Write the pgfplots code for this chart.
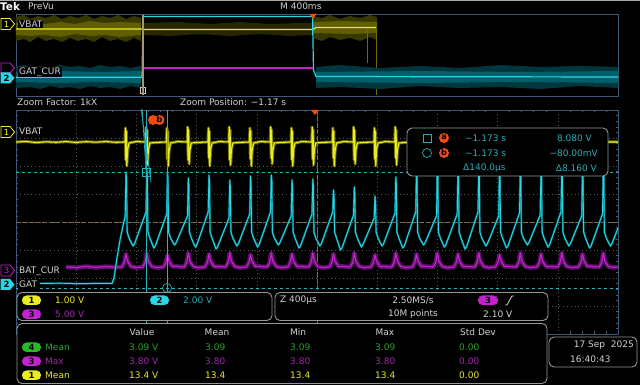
\documentclass[border=0pt]{standalone}
\usepackage{pgfplots}
\usepackage{pgfplotstable}
\pgfplotsset{compat=1.18}
\usepackage{fontspec}
\setmainfont{DejaVu Sans}
\definecolor{ych}{RGB}{235,235,35}
\definecolor{yband}{RGB}{110,110,0}
\definecolor{cch}{RGB}{40,215,230}
\definecolor{cband}{RGB}{0,100,110}
\definecolor{mch}{RGB}{195,35,205}
\definecolor{mband}{RGB}{95,15,105}
\definecolor{mtxt}{RGB}{160,40,170}
\definecolor{gch}{RGB}{40,165,40}
\definecolor{gpill}{RGB}{40,185,40}
\definecolor{tealc}{RGB}{40,175,185}
\definecolor{gridc}{RGB}{90,90,90}
\definecolor{centc}{RGB}{125,110,80}
\definecolor{bordc}{RGB}{60,88,118}
\definecolor{panelc}{RGB}{150,150,150}
\definecolor{txtc}{RGB}{210,210,210}
\definecolor{orng}{RGB}{240,75,20}
\definecolor{tanc}{RGB}{165,150,120}

\pgfplotstableread[row sep=\\]{
x y\\
16 142\\ 26 141.5\\ 36 142.5\\ 46 141.8\\ 56 142.3\\ 66 141.6\\ 76 142.4\\ 86 141.7\\ 96 142.2\\ 106 141.6\\ 116 142.3\\ 124 142\\
125.0 142\\ 125.4 128\\ 125.8 160\\ 126.3 131\\ 126.8 166\\ 127.6 150\\ 129.0 143\\ 136 141.6\\
145.8 142\\ 146.2 127\\ 146.6 158\\ 147.1 130\\ 147.6 165\\ 148.4 150\\ 149.8 143\\ 156.8 142.4\\
166.5 142\\ 166.9 128\\ 167.3 159\\ 167.8 131\\ 168.3 166\\ 169.1 151\\ 170.5 143\\ 177.5 141.6\\
187.3 142\\ 187.7 127\\ 188.1 160\\ 188.6 130\\ 189.1 164\\ 189.9 150\\ 191.3 143\\ 198.3 142.4\\
208.0 142\\ 208.4 128\\ 208.8 158\\ 209.3 131\\ 209.8 166\\ 210.6 149\\ 212.0 143\\ 219 141.6\\
228.8 142\\ 229.2 127\\ 229.6 160\\ 230.1 130\\ 230.6 165\\ 231.4 150\\ 232.8 143\\ 239.8 142.4\\
249.5 142\\ 249.9 128\\ 250.3 159\\ 250.8 131\\ 251.3 166\\ 252.1 151\\ 253.5 143\\ 260.5 141.6\\
270.3 142\\ 270.7 127\\ 271.1 158\\ 271.6 130\\ 272.1 164\\ 272.9 150\\ 274.3 143\\ 281.3 142.4\\
291.0 142\\ 291.4 128\\ 291.8 160\\ 292.3 131\\ 292.8 166\\ 293.6 149\\ 295.0 143\\ 302 141.6\\
311.8 142\\ 312.2 127\\ 312.6 159\\ 313.1 130\\ 313.6 165\\ 314.4 150\\ 315.8 143\\ 322.8 142.4\\
332.5 142\\ 332.9 128\\ 333.3 158\\ 333.8 131\\ 334.3 166\\ 335.1 151\\ 336.5 143\\ 343.5 141.6\\
353.3 142\\ 353.7 127\\ 354.1 160\\ 354.6 130\\ 355.1 164\\ 355.9 150\\ 357.3 143\\ 364.3 142.4\\
374.0 142\\ 374.4 128\\ 374.8 159\\ 375.3 131\\ 375.8 166\\ 376.6 149\\ 378.0 143\\ 385 141.6\\
394.8 142\\ 395.2 127\\ 395.6 158\\ 396.1 130\\ 396.6 165\\ 397.4 150\\ 398.8 143\\ 405.8 142.4\\
420 141.7\\ 500 142.3\\ 560 141.8\\ 618 142\\
}\yelmain

\pgfplotstableread[row sep=\\]{
x y\\
40 283.5\\ 60 283.2\\ 80 283.7\\ 100 283.3\\ 112 283.5\\ 114 278\\ 117 258\\ 120 240\\ 123 226\\
125.2 216\\ 126 172\\ 126.5 178\\ 127.1 232\\ 129 238\\ 133 246\\ 134.5 244\\
146 212\\ 146.8 170\\ 147.3 176\\ 147.9 232\\ 149.8 238\\ 153.8 248\\ 155.3 246\\
166.7 214\\ 167.5 173\\ 168 179\\ 168.6 232\\ 170.5 238\\ 174.5 245\\ 176 243\\
187.5 216\\ 188.3 178\\ 188.8 184\\ 189.4 232\\ 191.3 238\\ 195.3 247\\ 196.8 245\\
208.2 212\\ 209 175\\ 209.5 181\\ 210.1 232\\ 212 238\\ 216 249\\ 217.5 247\\
229 218\\ 229.8 180\\ 230.3 186\\ 230.9 232\\ 232.8 238\\ 236.8 246\\ 238.3 244\\
249.7 214\\ 250.5 176\\ 251 182\\ 251.6 232\\ 253.5 238\\ 257.5 247\\ 259 245\\
270.5 212\\ 271.3 175\\ 271.8 181\\ 272.4 232\\ 274.3 238\\ 278.3 245\\ 279.8 243\\
291.2 216\\ 292 180\\ 292.5 186\\ 293.1 232\\ 295 238\\ 299 248\\ 300.5 246\\
312 214\\ 312.8 179\\ 313.3 185\\ 313.9 232\\ 315.8 238\\ 319.8 246\\ 321.3 244\\
332.7 212\\ 333.5 190\\ 334 196\\ 334.6 232\\ 336.5 238\\ 340.5 250\\ 342 248\\
353.5 215\\ 354.3 187\\ 354.8 193\\ 355.4 232\\ 357.3 238\\ 361.3 247\\ 362.8 245\\
374.2 218\\ 375 196\\ 375.5 202\\ 376.1 232\\ 378 238\\ 382 246\\ 383.5 244\\
395 213\\ 395.8 177\\ 396.3 183\\ 396.9 232\\ 398.8 238\\ 402.8 248\\ 404.3 246\\
415.7 212\\ 416.5 170\\ 417 176\\ 417.6 232\\ 419.5 238\\ 423.5 245\\ 425 243\\
436.5 216\\ 437.3 170\\ 437.8 176\\ 438.4 232\\ 440.3 238\\ 444.3 247\\ 445.8 245\\
457.2 214\\ 458 170\\ 458.5 176\\ 459.1 232\\ 461 238\\ 465 249\\ 466.5 247\\
478 212\\ 478.8 170\\ 479.3 176\\ 479.9 232\\ 481.8 238\\ 485.8 246\\ 487.3 244\\
498.7 216\\ 499.5 170\\ 500 176\\ 500.6 232\\ 502.5 238\\ 506.5 248\\ 508 246\\
519.5 213\\ 520.3 170\\ 520.8 176\\ 521.4 232\\ 523.3 238\\ 527.3 245\\ 528.8 243\\
540.2 215\\ 541 170\\ 541.5 176\\ 542.1 232\\ 544 238\\ 548 247\\ 549.5 245\\
561 212\\ 561.8 170\\ 562.3 176\\ 562.9 232\\ 564.8 238\\ 568.8 246\\ 570.3 244\\
581.7 216\\ 582.5 170\\ 583 176\\ 583.6 232\\ 585.5 238\\ 589.5 248\\ 591 246\\
602.5 214\\ 603.3 170\\ 603.8 176\\ 604.4 232\\ 606.3 238\\ 610.3 246\\ 611.8 244\\
618 228\\
}\cyamain

\pgfplotstableread[row sep=\\]{
x y\\
66 267\\ 76 267.6\\ 86 266.5\\ 96 267.4\\ 106 266.6\\ 116 267.3\\
122 267\\ 124.5 262\\ 126 254\\ 127.5 261\\ 131 266.5\\ 136 267.6\\
142.8 267\\ 145.3 262\\ 146.8 253\\ 148.3 261\\ 151.8 266.5\\ 156.8 267.6\\
163.5 267\\ 166 262\\ 167.5 255\\ 169 261\\ 172.5 266.5\\ 177.5 266.5\\
184.3 267\\ 186.8 262\\ 188.3 253\\ 189.8 261\\ 193.3 266.5\\ 198.3 267.6\\
205 267\\ 207.5 262\\ 209 254\\ 210.5 261\\ 214 266.5\\ 219 266.6\\
225.8 267\\ 228.3 262\\ 229.8 253\\ 231.3 261\\ 234.8 266.5\\ 239.8 267.6\\
246.5 267\\ 249 262\\ 250.5 255\\ 252 261\\ 255.5 266.5\\ 260.5 266.5\\
267.3 267\\ 269.8 262\\ 271.3 253\\ 272.8 261\\ 276.3 266.5\\ 281.3 267.6\\
288 267\\ 290.5 262\\ 292 254\\ 293.5 261\\ 297 266.5\\ 302 266.6\\
308.8 267\\ 311.3 262\\ 312.8 253\\ 314.3 261\\ 317.8 266.5\\ 322.8 267.6\\
329.5 267\\ 332 262\\ 333.5 254\\ 335 261\\ 338.5 266.5\\ 343.5 266.5\\
350.3 267\\ 352.8 262\\ 354.3 253\\ 355.8 261\\ 359.3 266.5\\ 364.3 267.6\\
371 267\\ 373.5 262\\ 375 255\\ 376.5 261\\ 380 266.5\\ 385 266.6\\
391.8 267\\ 394.3 262\\ 395.8 253\\ 397.3 261\\ 400.8 266.5\\ 405.8 267.6\\
412.5 267\\ 415 262\\ 416.5 254\\ 418 261\\ 421.5 266.5\\ 426.5 266.5\\
433.3 267\\ 435.8 262\\ 437.3 253\\ 438.8 261\\ 442.3 266.5\\ 447.3 267.6\\
454 267\\ 456.5 262\\ 458 254\\ 459.5 261\\ 463 266.5\\ 468 266.6\\
474.8 267\\ 477.3 262\\ 478.8 253\\ 480.3 261\\ 483.8 266.5\\ 488.8 267.6\\
495.5 267\\ 498 262\\ 499.5 255\\ 501 261\\ 504.5 266.5\\ 509.5 266.5\\
516.3 267\\ 518.8 262\\ 520.3 253\\ 521.8 261\\ 525.3 266.5\\ 530.3 267.6\\
537 267\\ 539.5 262\\ 541 254\\ 542.5 261\\ 546 266.5\\ 551 266.6\\
557.8 267\\ 560.3 262\\ 561.8 253\\ 563.3 261\\ 566.8 266.5\\ 571.8 267.6\\
578.5 267\\ 581 262\\ 582.5 254\\ 584 261\\ 587.5 266.5\\ 592.5 266.5\\
599.3 267\\ 601.8 262\\ 603.3 253\\ 604.8 261\\ 608.3 266.5\\ 613.3 267.4\\
618 267\\
}\magmain

\begin{document}
\begin{tikzpicture}[x=1pt,y=1pt,font=\fontsize{9}{10}\selectfont]
\useasboundingbox (0,0) rectangle (640,385);
\fill[black] (0,0) rectangle (640,385);
\fill[gray!70] (0,384) rectangle (640,385);

% ---------------- overview ----------------
\begin{axis}[at={(16pt,289pt)}, anchor=south west, width=602pt, height=82pt, scale only axis,
  xmin=16, xmax=618, ymin=14, ymax=96, y dir=reverse,
  axis line style={bordc, line width=0.8pt}, xtick=\empty, ytick=\empty]
\addplot[fill={rgb,255:red,55;green,55;blue,0}, draw=none] coordinates {(16,17)(24,15)(30,19)(38,16)(46,18)(54,15)(62,19)(70,16)(78,18)(86,15)(94,19)(102,16)(110,18)(118,15)(126,19)(134,16)(141,18)(141,41)(134,38)(126,42)(118,39)(110,41)(102,37)(94,42)(86,39)(78,41)(70,38)(62,42)(54,39)(46,41)(38,37)(30,42)(24,39)(16,41)};
\addplot[fill={rgb,255:red,95;green,95;blue,0}, draw=none] coordinates {(16,23)(30,21)(45,24)(60,22)(75,24)(90,21)(105,23)(120,22)(141,23)(141,35)(120,37)(105,35)(90,36)(75,34)(60,37)(45,35)(30,36)(16,35)};
\addplot[fill={rgb,255:red,38;green,38;blue,0}, draw=none] coordinates {(143,23)(180,22)(210,24)(240,22)(270,24)(300,23)(313,23)(313,35)(290,36)(260,34)(230,36)(200,34)(170,36)(143,35)};
\addplot[fill={rgb,255:red,55;green,55;blue,0}, draw=none] coordinates {(313,16)(322,18)(330,15)(340,19)(350,16)(360,18)(370,15)(377,17)(377,40)(370,37)(360,41)(350,38)(340,40)(330,37)(322,41)(313,38)};
\addplot[fill={rgb,255:red,95;green,95;blue,0}, draw=none] coordinates {(313,22)(340,21)(377,22)(377,33)(350,34)(313,33)};
\addplot[yband, line width=1pt] coordinates {(367,28)(367,63)};
\addplot[yband, line width=0.6pt] coordinates {(376.5,28)(376.5,95)};
\addplot[ych, line width=1.2pt] coordinates {(16,29)(141,29)(143,29.5)(313,29.5)(316,27.5)(376,27.5)};
% cyan
\addplot[fill={rgb,255:red,0;green,55;blue,62}, draw=none] coordinates {(16,67)(24,65)(32,68)(40,66)(50,68)(60,65)(70,67)(80,66)(90,68)(100,65)(110,67)(120,66)(130,68)(141,66)(141,88)(130,86)(120,89)(110,87)(100,88)(90,86)(80,89)(70,87)(60,88)(50,86)(40,89)(30,87)(16,88)};
\addplot[fill={rgb,255:red,0;green,95;blue,105}, draw=none] coordinates {(16,72)(60,71)(100,72)(141,71)(141,83)(100,82)(60,83)(16,82)};
\addplot[fill={rgb,255:red,0;green,55;blue,62}, draw=none] coordinates {(316,67)(340,65)(380,68)(420,66)(460,68)(500,65)(540,67)(580,66)(618,67)(618,88)(580,86)(540,89)(500,87)(460,88)(420,86)(380,89)(340,87)(316,88)};
\addplot[fill={rgb,255:red,0;green,95;blue,105}, draw=none] coordinates {(316,72)(420,71)(520,72)(618,71)(618,83)(520,82)(420,83)(316,82)};
\addplot[cch, line width=1.2pt] coordinates {(16,77.3)(142,77.3)(143,16.5)(312.5,16.5)(313.5,70)(316,76.5)(618,77)};
\addplot[mch, line width=1.2pt] coordinates {(143,68)(313,68)};
\draw[tanc, line width=2pt] (axis cs:142.7,15) -- (axis cs:142.7,95);
\draw[white!80!black, line width=0.6pt] (axis cs:141.5,87.5) -- (axis cs:140,87.5) -- (axis cs:140,93) -- (axis cs:141.5,93);
\draw[white!80!black, line width=0.6pt] (axis cs:144,87.5) -- (axis cs:145.5,87.5) -- (axis cs:145.5,93) -- (axis cs:144,93);
\end{axis}

% ---------------- zoom window ----------------
\begin{axis}[at={(16pt,51pt)}, anchor=south west, width=602pt, height=224pt, scale only axis,
  xmin=16, xmax=618, ymin=110, ymax=334, y dir=reverse,
  axis line style={bordc, line width=0.8pt},
  xtick={16,76.2,136.4,196.6,256.8,317,377.2,437.4,497.6,557.8,618},
  ytick={110,138,166,194,222,250,278,306,334},
  xmajorticks=false, ymajorticks=false,
  grid=major, major grid style={gridc, line width=0.5pt, dash pattern=on 0.8pt off 3pt},
  minor x tick num=4, minor y tick num=4,
  tick style={gridc, line width=0.5pt}, minor tick length=2.5pt,
  tick align=inside]
\draw[centc, line width=0.7pt, dash pattern=on 5pt off 1.5pt] (axis cs:16,222) -- (axis cs:618,222);
\draw[centc, line width=0.7pt, dash pattern=on 5pt off 1.5pt] (axis cs:317,110) -- (axis cs:317,334);
\addplot[mband, line width=4.5pt, line join=round] table {\magmain};
\addplot[mch, line width=1.1pt, line join=round] table {\magmain};
\addplot[yband, line width=3pt, line join=round] table {\yelmain};
\addplot[ych, line width=1.1pt, line join=round] table {\yelmain};
\addplot[cband, line width=2pt, line join=round] table {\cyamain};
\addplot[cch, line width=0.9pt, line join=round] table {\cyamain};
% cursors
\draw[tealc, line width=0.7pt] (axis cs:146,110) -- (axis cs:146,334);
\draw[tealc, line width=0.7pt] (axis cs:167,110) -- (axis cs:167,334);
\draw[tealc, line width=0.8pt, dash pattern=on 3pt off 3pt] (axis cs:16,172) -- (axis cs:618,172);
\draw[tealc, line width=0.8pt, dash pattern=on 3pt off 3pt] (axis cs:16,288) -- (axis cs:618,288);
\draw[tealc, line width=0.7pt] (axis cs:146,172) ++(-4pt,-4pt) rectangle ++(8pt,8pt);
\draw[tealc, line width=0.7pt] (axis cs:167,288) circle (4.5pt);
\draw[tealc, line width=0.7pt] (axis cs:167,288) ++(-4.5pt,0) -- ++(9pt,0);
\draw[tealc, line width=0.7pt] (axis cs:167,288) ++(0,-4.5pt) -- ++(0,9pt);
\end{axis}

\begin{scope}[y=-1pt, yshift=385pt]
% header
\node[anchor=west, inner sep=0, text=white, font=\fontsize{10.5}{12}\selectfont\bfseries] at (0,6.5) {Tek};
\node[anchor=west, inner sep=0, text=txtc] at (28,6.5) {PreVu};
\node[anchor=west, inner sep=0, text=txtc] at (280,6.5) {M 400ms};
\fill[orng] (309.5,14) -- (316.5,14) -- (313,19) -- cycle;
% overview labels
\draw[ych, line width=0.8pt, fill=black] (1,18.5) -- (10,18.5) -- (14.5,24) -- (10,29.5) -- (1,29.5) -- cycle;
\node[text=ych, inner sep=0, font=\fontsize{8.5}{9}\selectfont] at (6.5,24) {1};
\node[anchor=west, fill=black, inner sep=1pt, text=txtc] at (18,24) {VBAT};
\draw[mch, line width=0.8pt, fill=black] (1,63) -- (10,63) -- (14.5,68) -- (10,73) -- (1,73) -- cycle;
\fill[cch] (0.5,72.5) -- (10,72.5) -- (14.5,78) -- (10,83.5) -- (0.5,83.5) -- cycle;
\node[text=black, inner sep=0, font=\fontsize{8.5}{9}\selectfont\bfseries] at (6.5,78) {2};
\node[anchor=west, fill=black, inner sep=1pt, text=txtc] at (18,72) {GAT\_CUR};
% zoom info
\node[anchor=west, inner sep=0, text=txtc] at (17,102) {Zoom Factor: 1kX};
\node[anchor=west, inner sep=0, text=txtc] at (180,102) {Zoom Position: −1.17 s};
\fill[orng] (311,110) -- (319,110) -- (315,115) -- cycle;
% orange cursor badges
\fill[orng] (153,120) circle (5pt);
\fill[orng] (159.5,120) circle (5pt);
\node[text=black, inner sep=0, font=\fontsize{8}{9}\selectfont\bfseries] at (159.5,119.5) {b};
% main labels
\draw[ych, line width=0.8pt, fill=black] (1,126.5) -- (10,126.5) -- (14.5,132) -- (10,137.5) -- (1,137.5) -- cycle;
\node[text=ych, inner sep=0, font=\fontsize{8.5}{9}\selectfont] at (6.5,132) {1};
\node[anchor=west, fill=black, inner sep=1pt, text=txtc] at (18,131.5) {VBAT};
\draw[mch, line width=0.8pt, fill=black] (1,265) -- (10,265) -- (14.5,270.5) -- (10,276) -- (1,276) -- cycle;
\node[text=mch, inner sep=0, font=\fontsize{8.5}{9}\selectfont] at (6.5,270.5) {3};
\node[anchor=west, fill=black, inner sep=1pt, text=txtc] at (18,271) {BAT\_CUR};
\fill[cch] (0.5,279) -- (10,279) -- (14.5,284.5) -- (10,290) -- (0.5,290) -- cycle;
\node[text=black, inner sep=0, font=\fontsize{8.5}{9}\selectfont\bfseries] at (6.5,284.5) {2};
\node[anchor=west, fill=black, inner sep=1pt, text=txtc] at (18,284.5) {GAT};
% cursor readout box
\draw[panelc, line width=0.9pt, fill=black, rounded corners=5pt] (407,128) rectangle (608,176);
\draw[tealc, line width=0.7pt] (423,134) rectangle (431,142);
\draw[tealc, line width=0.7pt] (427,153) circle (4.5pt);
\fill[orng] (444,138) circle (5pt);
\fill[orng] (444,153) circle (5pt);
\node[text=black, inner sep=0, font=\fontsize{8}{9}\selectfont\bfseries] at (444,137.5) {a};
\node[text=black, inner sep=0, font=\fontsize{8}{9}\selectfont\bfseries] at (444,152.5) {b};
\node[anchor=west, inner sep=0, text=tealc] at (465,138) {−1.173 s};
\node[anchor=west, inner sep=0, text=tealc] at (465,153) {−1.173 s};
\node[anchor=west, inner sep=0, text=tealc] at (463,168) {Δ140.0µs};
\node[anchor=east, inner sep=0, text=tealc] at (592,138) {8.080 V};
\node[anchor=east, inner sep=0, text=tealc] at (598,153) {−80.00mV};
\node[anchor=east, inner sep=0, text=tealc] at (597,168) {Δ8.160 V};
% bottom panels
\draw[panelc, line width=0.9pt, fill=black, rounded corners=5pt] (17,292.5) rectangle (272,320.5);
\draw[panelc, line width=0.9pt, fill=black, rounded corners=5pt] (275,292.5) rectangle (548,320.5);
\draw[panelc, line width=0.9pt, fill=black, rounded corners=5pt] (17,323.5) rectangle (547,383.5);
\draw[panelc, line width=0.9pt, fill=black, rounded corners=5pt] (549,337) rectangle (637,367);
% channel scale panel
\fill[ych, rounded corners=4.5pt] (22,295.5) rectangle (41,305);
\node[text=black, inner sep=0, font=\fontsize{8.5}{9}\selectfont\bfseries] at (31.5,300.3) {1};
\node[anchor=west, inner sep=0, text=ych] at (55,300.5) {1.00 V};
\fill[mch, rounded corners=4.5pt] (22,309.5) rectangle (41,319);
\node[text=black, inner sep=0, font=\fontsize{8.5}{9}\selectfont\bfseries] at (31.5,314.3) {3};
\node[anchor=west, inner sep=0, text=mtxt] at (55,314.5) {5.00 V};
\fill[cch, rounded corners=4.5pt] (150,295.5) rectangle (169,305);
\node[text=black, inner sep=0, font=\fontsize{8.5}{9}\selectfont\bfseries] at (159.5,300.3) {2};
\node[anchor=west, inner sep=0, text=tealc] at (183,300.5) {2.00 V};
% timebase panel
\node[anchor=west, inner sep=0, text=txtc] at (280,300.5) {Z 400µs};
\node[inner sep=0, text=txtc] at (413,300.5) {2.50MS/s};
\node[inner sep=0, text=txtc] at (413,314.5) {10M points};
\fill[mch, rounded corners=4.5pt] (478,295.5) rectangle (498,305);
\node[text=black, inner sep=0, font=\fontsize{8.5}{9}\selectfont\bfseries] at (488,300.3) {3};
\draw[txtc, line width=0.8pt] (505,305) -- (507,305) -- (512,296) -- (514,296);
\node[anchor=west, inner sep=0, text=txtc] at (483,314.5) {2.10 V};
% measurement panel
\node[inner sep=0, text=txtc] at (142,332) {Value};
\node[inner sep=0, text=txtc] at (217,332) {Mean};
\node[inner sep=0, text=txtc] at (298,332) {Min};
\node[inner sep=0, text=txtc] at (385,332) {Max};
\node[inner sep=0, text=txtc] at (478,332) {Std Dev};
\fill[gpill, rounded corners=4.5pt] (22,342.5) rectangle (41,352);
\node[text=black, inner sep=0, font=\fontsize{8.5}{9}\selectfont\bfseries] at (31.5,347.3) {4};
\node[anchor=west, inner sep=0, text=gch] at (45,347.5) {Mean};
\fill[mch, rounded corners=4.5pt] (22,356.5) rectangle (41,366);
\node[text=black, inner sep=0, font=\fontsize{8.5}{9}\selectfont\bfseries] at (31.5,361.3) {3};
\node[anchor=west, inner sep=0, text=mtxt] at (45,361.5) {Max};
\fill[ych, rounded corners=4.5pt] (22,370.5) rectangle (41,380);
\node[text=black, inner sep=0, font=\fontsize{8.5}{9}\selectfont\bfseries] at (31.5,375.3) {1};
\node[anchor=west, inner sep=0, text=ych] at (45,375.5) {Mean};
\foreach \xx/\t in {129/3.09 V,205/3.09,290/3.09,375/3.09,459/0.00}
  \node[anchor=west, inner sep=0, text=gch] at (\xx,347.5) {\t};
\foreach \xx/\t in {129/3.80 V,205/3.80,290/3.80,375/3.80,459/0.00}
  \node[anchor=west, inner sep=0, text=mtxt] at (\xx,361.5) {\t};
\foreach \xx/\t in {129/13.4 V,205/13.4,290/13.4,375/13.4,459/0.00}
  \node[anchor=west, inner sep=0, text=ych] at (\xx,375.5) {\t};
% date
\node[anchor=east, inner sep=0, text=txtc] at (634,345) {17 Sep\ \ 2025};
\node[anchor=west, inner sep=0, text=txtc] at (570,359) {16:40:43};
\end{scope}
\end{tikzpicture}
\end{document}
